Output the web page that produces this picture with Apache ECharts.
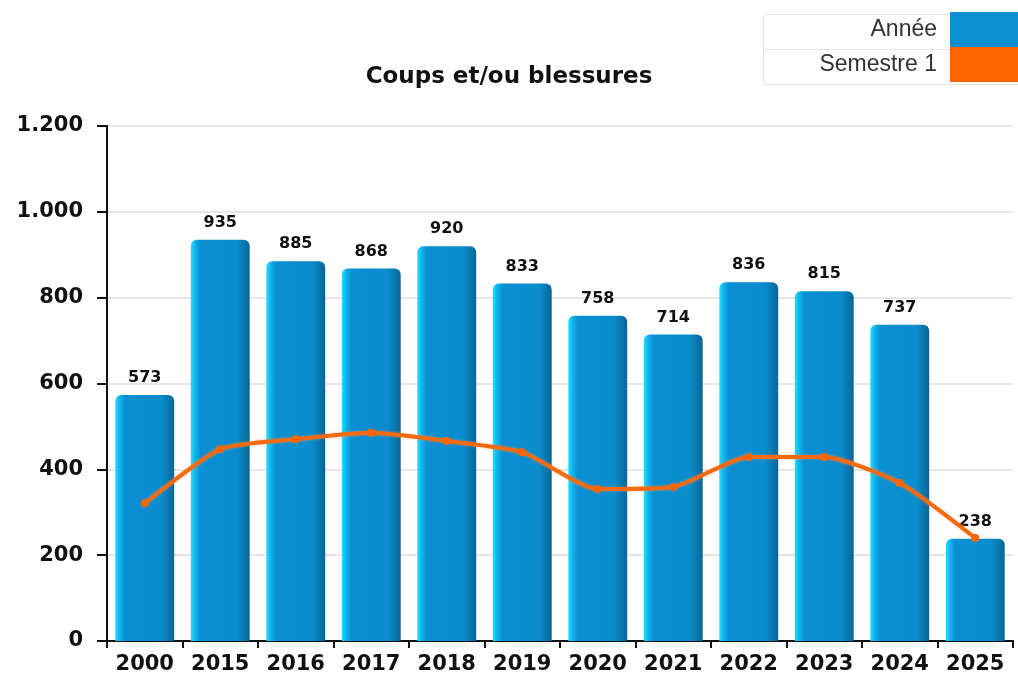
<!DOCTYPE html>
<html>
<head>
<meta charset="utf-8">
<script src="https://cdn.jsdelivr.net/npm/echarts@6/dist/echarts.min.js"></script>
<style>
  html, body { margin: 0; padding: 0; background: #fff; }
  #chart { width: 1018px; height: 677px; }
</style>
</head>
<body>
<div id="chart"></div>
<script>
// données
var years = ['2000', '2015', '2016', '2017', '2018', '2019', '2020', '2021', '2022', '2023', '2024', '2025'];
var anneeValues = [573, 935, 885, 868, 920, 833, 758, 714, 836, 815, 737, 238];
var semestreValues = [321, 447, 470, 485, 466, 440, 354, 359, 429, 429, 368, 240];
var yTicks = [0, 200, 400, 600, 800, 1000, 1200];

function fmt(v) {
    return String(v).replace(/\B(?=(\d{3})+(?!\d))/g, '.');
}

var myChart = echarts.init(document.getElementById('chart'));
var barColor = new echarts.graphic.LinearGradient(0, 0, 1, 0, [
    { offset: 0, color: '#27dcff' },
    { offset: 0.07, color: '#0fb6ee' },
    { offset: 0.16, color: '#0a8fd2' },
    { offset: 0.78, color: '#0a8ccd' },
    { offset: 1, color: '#0a6596' }
]);

var option = {
    animation: false,
    title: {
        text: 'Coups et/ou blessures',
        left: 'center',
        top: 61,
        textStyle: {
            fontFamily: 'DejaVu Sans',
            fontSize: 23,
            fontWeight: 'bold',
            color: '#111'
        }
    },
    legend: {
        orient: 'vertical',
        right: 0,
        top: 12,
        align: 'right',
        itemWidth: 68,
        itemHeight: 35,
        itemGap: 0,
        padding: 0,
        icon: 'rect',
        data: [
            { name: 'Année', itemStyle: { color: '#0a8fd2' } },
            { name: 'Semestre 1', itemStyle: { color: '#ff6600' } }
        ],
        textStyle: {
            fontFamily: 'Liberation Sans',
            fontSize: 23,
            color: '#333',
            padding: [0, 8, 0, 0]
        }
    },
    graphic: [
        { type: 'rect', left: 761, top: 12, shape: { width: 257, height: 35 }, style: { fill: 'none', stroke: '#e4e4e4', lineWidth: 1 }, z: -1 },
        { type: 'rect', left: 761, top: 47, shape: { width: 257, height: 35 }, style: { fill: 'none', stroke: '#e4e4e4', lineWidth: 1 }, z: -1 }
    ],
    grid: {
        left: 107,
        right: 5,
        top: 126,
        bottom: 36
    },
    xAxis: {
        type: 'category',
        data: years,
        axisLine: { lineStyle: { color: '#111', width: 2 } },
        axisTick: { show: true, length: 7, interval: 0, lineStyle: { color: '#111', width: 2 } },
        axisLabel: {
            interval: 0,
            margin: 13,
            fontFamily: 'DejaVu Sans',
            fontSize: 21,
            fontWeight: 'bold',
            color: '#111'
        }
    },
    yAxis: {
        type: 'value',
        min: yTicks[0],
        max: yTicks[yTicks.length - 1],
        interval: 200,
        axisLine: { show: true, lineStyle: { color: '#111', width: 2 } },
        axisTick: { show: true, length: 10, lineStyle: { color: '#111', width: 2 } },
        splitLine: { lineStyle: { color: '#e6e6e6', width: 2 } },
        axisLabel: {
            margin: 24,
            fontFamily: 'DejaVu Sans',
            fontSize: 21,
            fontWeight: 'bold',
            color: '#111',
            formatter: fmt
        }
    },
    series: [
        {
            name: 'Année',
            type: 'bar',
            data: anneeValues,
            barCategoryGap: '22%',
            itemStyle: {
                color: barColor,
                borderRadius: [6, 6, 0, 0]
            },
            label: {
                show: true,
                position: 'top',
                distance: 9,
                fontFamily: 'DejaVu Sans',
                fontSize: 16,
                fontWeight: 'bold',
                color: '#111'
            }
        },
        {
            name: 'Semestre 1',
            type: 'line',
            data: semestreValues,
            smooth: 0.2,
            symbol: 'circle',
            symbolSize: 8,
            itemStyle: { color: '#ff6600' },
            lineStyle: {
                color: '#f26a12',
                width: 4,
                shadowColor: 'rgba(255,150,80,0.6)',
                shadowBlur: 3
            }
        }
    ]
};
myChart.setOption(option);
</script>
</body>
</html>
